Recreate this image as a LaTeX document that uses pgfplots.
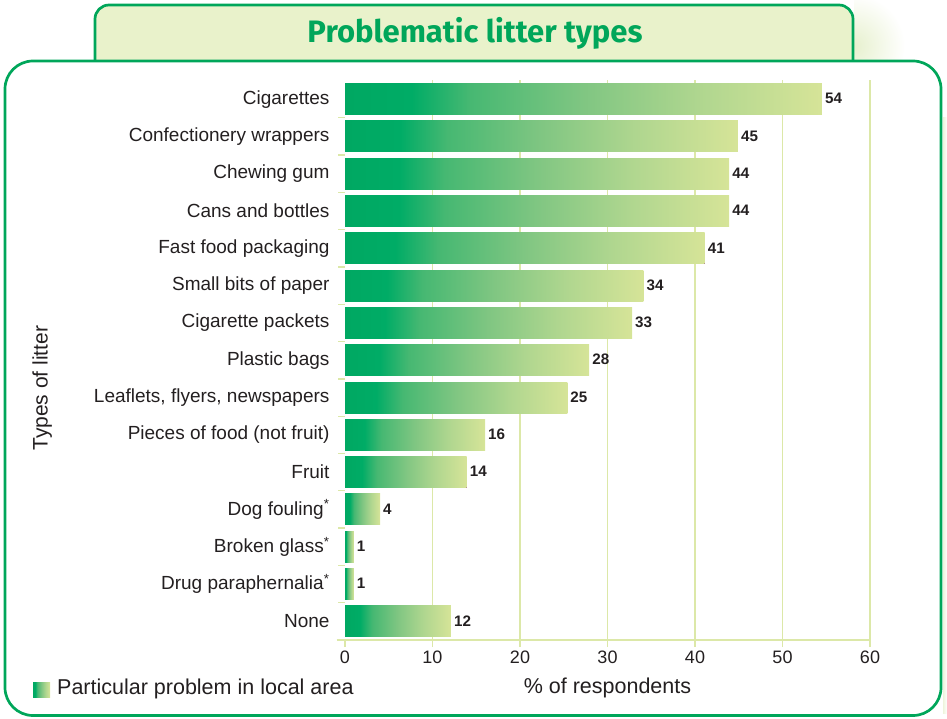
\documentclass[border=0pt]{standalone}
\usepackage{pgfplots}
\pgfplotsset{compat=1.18}
\usepackage{fontspec}
\setmainfont{Liberation Sans}
\newfontfamily\titlefont{Fira Sans}
\definecolor{boxgreen}{RGB}{0,166,90}
\definecolor{titlefill}{RGB}{233,242,203}
\definecolor{glowc}{RGB}{230,240,205}
\definecolor{gridc}{RGB}{220,232,168}
\definecolor{textc}{RGB}{35,31,32}
\definecolor{s0}{RGB}{0,168,98}
\definecolor{s1}{RGB}{0,172,102}
\definecolor{s2}{RGB}{70,184,114}
\definecolor{s3}{RGB}{128,198,130}
\definecolor{s4}{RGB}{175,214,143}
\definecolor{s5}{RGB}{214,228,152}
\pgfdeclarehorizontalshading{barshade}{100bp}{color(0bp)=(s0); color(25bp)=(s0); color(32bp)=(s1); color(38bp)=(s2); color(50bp)=(s3); color(62bp)=(s4); color(75bp)=(s5); color(100bp)=(s5)}
\begin{document}
\begin{tikzpicture}
\useasboundingbox (0,0) rectangle (947pt,718pt);
% glow
\begin{scope}
\clip (854pt,658.5pt) rectangle (947pt,718pt);
\shade[inner color=glowc, outer color=white] (853pt,672pt) circle (52pt);
\end{scope}
\shade[left color=glowc!70, right color=white] (943pt,5pt) rectangle (947pt,600pt);
% title box
\fill[titlefill] (95pt,657pt) -- (95pt,699pt) arc[start angle=180,end angle=90,radius=14pt] -- (839pt,713pt) arc[start angle=90,end angle=0,radius=14pt] -- (853pt,657pt) -- cycle;
\draw[boxgreen, line width=2.7pt] (95pt,657pt) -- (95pt,699pt) arc[start angle=180,end angle=90,radius=14pt] -- (839pt,713pt) arc[start angle=90,end angle=0,radius=14pt] -- (853pt,657pt);
\draw[boxgreen, line width=2.7pt, rounded corners=28pt] (5pt,657pt) rectangle (941pt,2.5pt);
\node[text=boxgreen, font=\titlefont\bfseries\fontsize{31}{36}\selectfont] at (475pt,685pt) {Problematic litter types};
% legend
\shade[shading=barshade] (33pt,21pt) rectangle (50pt,36pt);
\node[anchor=west, inner sep=0pt, text=textc, font=\fontsize{21.5}{25}\selectfont] at (57pt,29pt) {Particular problem in local area};
\begin{axis}[
  at={(345pt,78pt)}, anchor=south west,
  scale only axis, width=525pt, height=559.5pt,
  xbar, bar width=31pt, bar shift=0pt,
  xmin=0, xmax=60, ymin=-0.5, ymax=14.5,
  axis x line*=bottom, axis y line*=left,
  x axis line style={draw=gridc, line width=1.3pt, shorten <=-8.5pt},
  y axis line style={draw=none},
  tick align=outside,
  major tick length=7pt,
  tick style={draw=gridc, line width=1.3pt},
  /pgf/number format/assume math mode=true,
  xtick={10,20,...,60},
  xmajorgrids, grid style={draw=gridc, line width=1.3pt},
  extra x ticks={0}, extra x tick style={grid=none},
  xticklabel style={font=\fontsize{18}{20}\selectfont, text=textc},
  ytick={-0.5,0.5,...,13.5}, yticklabels={},
  extra y ticks={0,1,...,14},
  extra y tick labels={None, Drug paraphernalia\textsuperscript{*}, Broken glass\textsuperscript{*}, Dog fouling\textsuperscript{*}, Fruit, Pieces of food (not fruit), {Leaflets, flyers, newspapers}, Plastic bags, Cigarette packets, Small bits of paper, Fast food packaging, Cans and bottles, Chewing gum, Confectionery wrappers, Cigarettes},
  extra y tick style={major tick length=0pt, yticklabel style={xshift=-12pt}},
  yticklabel style={font=\fontsize{19}{22}\selectfont, text=textc},
  xlabel={\% of respondents},
  xlabel style={at={(axis description cs:0.5,0)}, anchor=center, yshift=-48pt, font=\fontsize{21.5}{25}\selectfont, text=textc},
  ylabel={Types of litter},
  ylabel style={at={(axis description cs:-0.577,0.45)}, anchor=center, font=\fontsize{21}{25}\selectfont, text=textc},
  nodes near coords, point meta=explicit symbolic,
  nodes near coords style={anchor=west, inner sep=3pt, yshift=0.5pt, font=\bfseries\fontsize{15.2}{17}\selectfont, text=textc},
  every axis plot/.append style={draw=none, shade, shading=barshade},
]
\addplot coordinates {(54.5,14) [54]};
\addplot coordinates {(44.9,13) [45]};
\addplot coordinates {(43.9,12) [44]};
\addplot coordinates {(43.9,11) [44]};
\addplot coordinates {(41.1,10) [41]};
\addplot coordinates {(34.1,9) [34]};
\addplot coordinates {(32.8,8) [33]};
\addplot coordinates {(27.9,7) [28]};
\addplot coordinates {(25.4,6) [25]};
\addplot coordinates {(16.0,5) [16]};
\addplot coordinates {(13.9,4) [14]};
\addplot coordinates {(4.0,3) [4]};
\addplot coordinates {(1.0,2) [1]};
\addplot coordinates {(1.0,1) [1]};
\addplot coordinates {(12.1,0) [12]};
\end{axis}
\end{tikzpicture}
\end{document}
